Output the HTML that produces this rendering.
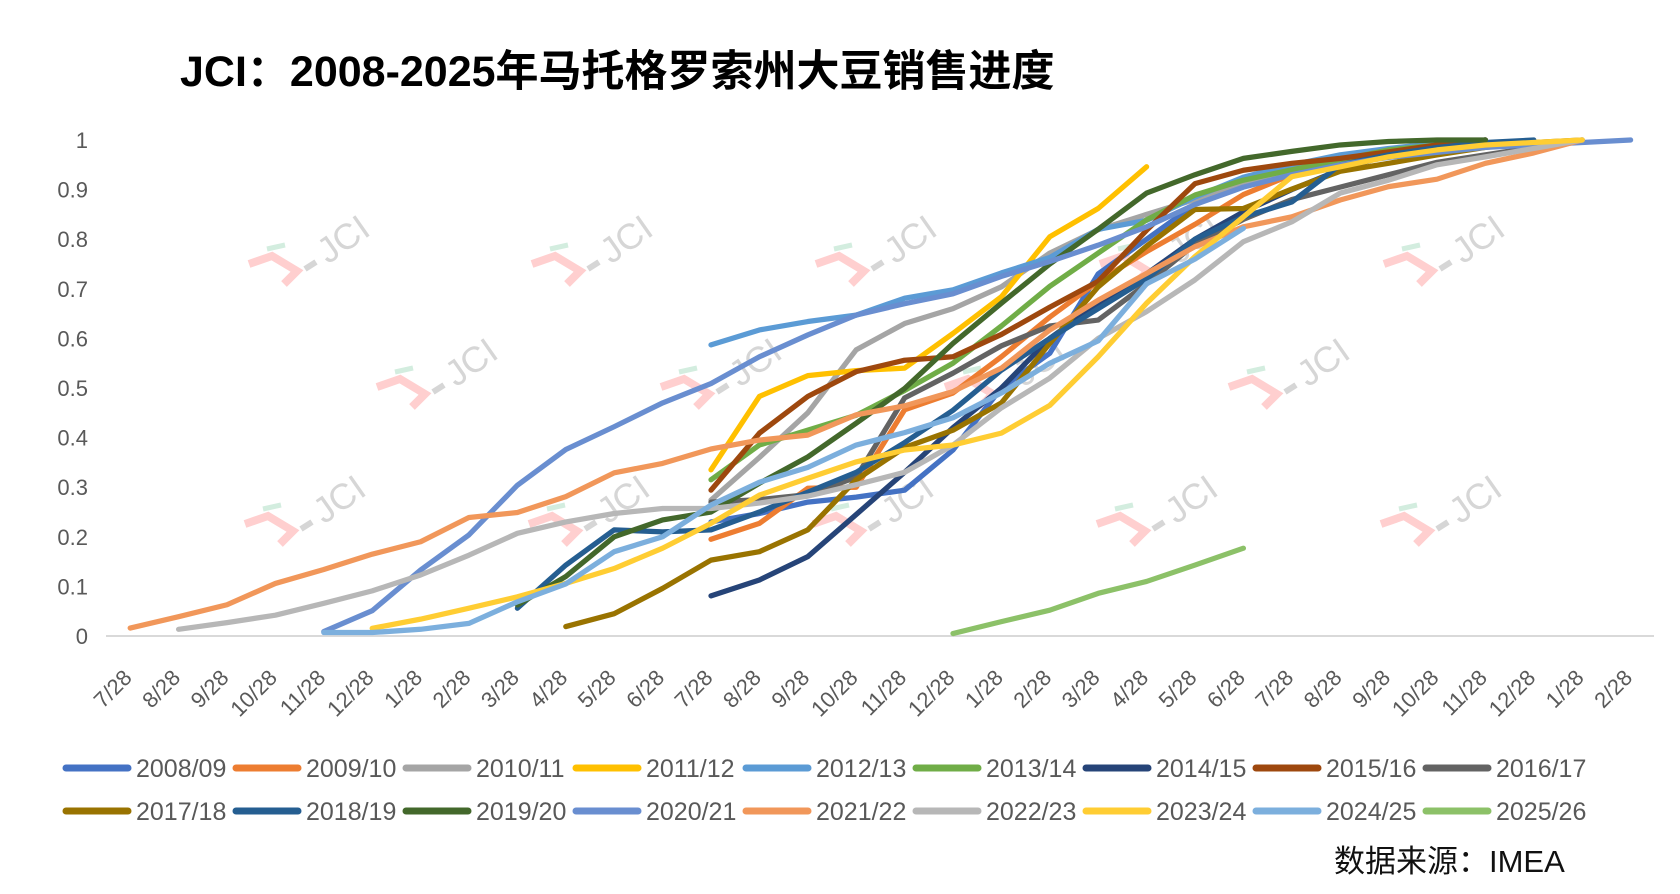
<!DOCTYPE html>
<html><head><meta charset="utf-8"><style>
html,body{margin:0;padding:0;background:#fff;}
svg{display:block;font-family:"Liberation Sans","Noto Sans CJK SC",sans-serif;}
.pl{fill:none;stroke-width:5.25;stroke-linecap:round;stroke-linejoin:round;vector-effect:non-scaling-stroke;}
.xl{font-size:22px;fill:#595959;text-anchor:end;}
.yl{font-size:22px;fill:#595959;text-anchor:end;}
.lg{font-size:25px;fill:#595959;}
.wm text{font-size:36px;fill:#D6D6D6;text-anchor:middle;dominant-baseline:central;}
</style></head><body>
<svg width="1680" height="894" viewBox="0 0 1680 894" xmlns="http://www.w3.org/2000/svg">
<rect width="1680" height="894" fill="#fff"/>
<text x="180" y="86" font-size="43" font-weight="bold" fill="#000">JCI：2008-2025年马托格罗索州大豆销售进度</text>

<!-- watermarks -->
<g class="wm">
<g transform="translate(309,249)"><polyline points="-60,15 -37,7 -12,22 -25,35" fill="none" stroke="#FFCFCF" stroke-width="8"/><line x1="-42" y1="0" x2="-24" y2="-4" stroke="#D3EDDF" stroke-width="5"/><line x1="-4" y1="20" x2="7" y2="13" stroke="#D6D6D6" stroke-width="6"/><text transform="translate(34,-10) rotate(-35)">JCI</text></g>
<g transform="translate(592,249)"><polyline points="-60,15 -37,7 -12,22 -25,35" fill="none" stroke="#FFCFCF" stroke-width="8"/><line x1="-42" y1="0" x2="-24" y2="-4" stroke="#D3EDDF" stroke-width="5"/><line x1="-4" y1="20" x2="7" y2="13" stroke="#D6D6D6" stroke-width="6"/><text transform="translate(34,-10) rotate(-35)">JCI</text></g>
<g transform="translate(876,249)"><polyline points="-60,15 -37,7 -12,22 -25,35" fill="none" stroke="#FFCFCF" stroke-width="8"/><line x1="-42" y1="0" x2="-24" y2="-4" stroke="#D3EDDF" stroke-width="5"/><line x1="-4" y1="20" x2="7" y2="13" stroke="#D6D6D6" stroke-width="6"/><text transform="translate(34,-10) rotate(-35)">JCI</text></g>
<g transform="translate(1160,249)"><polyline points="-60,15 -37,7 -12,22 -25,35" fill="none" stroke="#FFCFCF" stroke-width="8"/><line x1="-42" y1="0" x2="-24" y2="-4" stroke="#D3EDDF" stroke-width="5"/><line x1="-4" y1="20" x2="7" y2="13" stroke="#D6D6D6" stroke-width="6"/><text transform="translate(34,-10) rotate(-35)">JCI</text></g>
<g transform="translate(1444,249)"><polyline points="-60,15 -37,7 -12,22 -25,35" fill="none" stroke="#FFCFCF" stroke-width="8"/><line x1="-42" y1="0" x2="-24" y2="-4" stroke="#D3EDDF" stroke-width="5"/><line x1="-4" y1="20" x2="7" y2="13" stroke="#D6D6D6" stroke-width="6"/><text transform="translate(34,-10) rotate(-35)">JCI</text></g>
<g transform="translate(437,372)"><polyline points="-60,15 -37,7 -12,22 -25,35" fill="none" stroke="#FFCFCF" stroke-width="8"/><line x1="-42" y1="0" x2="-24" y2="-4" stroke="#D3EDDF" stroke-width="5"/><line x1="-4" y1="20" x2="7" y2="13" stroke="#D6D6D6" stroke-width="6"/><text transform="translate(34,-10) rotate(-35)">JCI</text></g>
<g transform="translate(721,372)"><polyline points="-60,15 -37,7 -12,22 -25,35" fill="none" stroke="#FFCFCF" stroke-width="8"/><line x1="-42" y1="0" x2="-24" y2="-4" stroke="#D3EDDF" stroke-width="5"/><line x1="-4" y1="20" x2="7" y2="13" stroke="#D6D6D6" stroke-width="6"/><text transform="translate(34,-10) rotate(-35)">JCI</text></g>
<g transform="translate(1005,372)"><polyline points="-60,15 -37,7 -12,22 -25,35" fill="none" stroke="#FFCFCF" stroke-width="8"/><line x1="-42" y1="0" x2="-24" y2="-4" stroke="#D3EDDF" stroke-width="5"/><line x1="-4" y1="20" x2="7" y2="13" stroke="#D6D6D6" stroke-width="6"/><text transform="translate(34,-10) rotate(-35)">JCI</text></g>
<g transform="translate(1289,372)"><polyline points="-60,15 -37,7 -12,22 -25,35" fill="none" stroke="#FFCFCF" stroke-width="8"/><line x1="-42" y1="0" x2="-24" y2="-4" stroke="#D3EDDF" stroke-width="5"/><line x1="-4" y1="20" x2="7" y2="13" stroke="#D6D6D6" stroke-width="6"/><text transform="translate(34,-10) rotate(-35)">JCI</text></g>
<g transform="translate(305,509)"><polyline points="-60,15 -37,7 -12,22 -25,35" fill="none" stroke="#FFCFCF" stroke-width="8"/><line x1="-42" y1="0" x2="-24" y2="-4" stroke="#D3EDDF" stroke-width="5"/><line x1="-4" y1="20" x2="7" y2="13" stroke="#D6D6D6" stroke-width="6"/><text transform="translate(34,-10) rotate(-35)">JCI</text></g>
<g transform="translate(589,509)"><polyline points="-60,15 -37,7 -12,22 -25,35" fill="none" stroke="#FFCFCF" stroke-width="8"/><line x1="-42" y1="0" x2="-24" y2="-4" stroke="#D3EDDF" stroke-width="5"/><line x1="-4" y1="20" x2="7" y2="13" stroke="#D6D6D6" stroke-width="6"/><text transform="translate(34,-10) rotate(-35)">JCI</text></g>
<g transform="translate(873,509)"><polyline points="-60,15 -37,7 -12,22 -25,35" fill="none" stroke="#FFCFCF" stroke-width="8"/><line x1="-42" y1="0" x2="-24" y2="-4" stroke="#D3EDDF" stroke-width="5"/><line x1="-4" y1="20" x2="7" y2="13" stroke="#D6D6D6" stroke-width="6"/><text transform="translate(34,-10) rotate(-35)">JCI</text></g>
<g transform="translate(1157,509)"><polyline points="-60,15 -37,7 -12,22 -25,35" fill="none" stroke="#FFCFCF" stroke-width="8"/><line x1="-42" y1="0" x2="-24" y2="-4" stroke="#D3EDDF" stroke-width="5"/><line x1="-4" y1="20" x2="7" y2="13" stroke="#D6D6D6" stroke-width="6"/><text transform="translate(34,-10) rotate(-35)">JCI</text></g>
<g transform="translate(1441,509)"><polyline points="-60,15 -37,7 -12,22 -25,35" fill="none" stroke="#FFCFCF" stroke-width="8"/><line x1="-42" y1="0" x2="-24" y2="-4" stroke="#D3EDDF" stroke-width="5"/><line x1="-4" y1="20" x2="7" y2="13" stroke="#D6D6D6" stroke-width="6"/><text transform="translate(34,-10) rotate(-35)">JCI</text></g>
</g>

<!-- y labels -->
<g class="yl">
<text x="88" y="148">1</text>
<text x="88" y="197.6">0.9</text>
<text x="88" y="247.2">0.8</text>
<text x="88" y="296.8">0.7</text>
<text x="88" y="346.4">0.6</text>
<text x="88" y="396">0.5</text>
<text x="88" y="445.6">0.4</text>
<text x="88" y="495.2">0.3</text>
<text x="88" y="544.8">0.2</text>
<text x="88" y="594.4">0.1</text>
<text x="88" y="644">0</text>
</g>

<!-- x axis -->
<line x1="106" y1="636" x2="1654" y2="636" stroke="#D9D9D9" stroke-width="2"/>

<g class="xl">
<text transform="translate(133.2,679) rotate(-45)">7/28</text>
<text transform="translate(181.6,679) rotate(-45)">8/28</text>
<text transform="translate(230,679) rotate(-45)">9/28</text>
<text transform="translate(278.4,679) rotate(-45)">10/28</text>
<text transform="translate(326.8,679) rotate(-45)">11/28</text>
<text transform="translate(375.2,679) rotate(-45)">12/28</text>
<text transform="translate(423.6,679) rotate(-45)">1/28</text>
<text transform="translate(472,679) rotate(-45)">2/28</text>
<text transform="translate(520.4,679) rotate(-45)">3/28</text>
<text transform="translate(568.8,679) rotate(-45)">4/28</text>
<text transform="translate(617.2,679) rotate(-45)">5/28</text>
<text transform="translate(665.6,679) rotate(-45)">6/28</text>
<text transform="translate(714,679) rotate(-45)">7/28</text>
<text transform="translate(762.4,679) rotate(-45)">8/28</text>
<text transform="translate(810.8,679) rotate(-45)">9/28</text>
<text transform="translate(859.2,679) rotate(-45)">10/28</text>
<text transform="translate(907.6,679) rotate(-45)">11/28</text>
<text transform="translate(956,679) rotate(-45)">12/28</text>
<text transform="translate(1004.4,679) rotate(-45)">1/28</text>
<text transform="translate(1052.8,679) rotate(-45)">2/28</text>
<text transform="translate(1101.2,679) rotate(-45)">3/28</text>
<text transform="translate(1149.6,679) rotate(-45)">4/28</text>
<text transform="translate(1198,679) rotate(-45)">5/28</text>
<text transform="translate(1246.4,679) rotate(-45)">6/28</text>
<text transform="translate(1294.8,679) rotate(-45)">7/28</text>
<text transform="translate(1343.2,679) rotate(-45)">8/28</text>
<text transform="translate(1391.6,679) rotate(-45)">9/28</text>
<text transform="translate(1440,679) rotate(-45)">10/28</text>
<text transform="translate(1488.4,679) rotate(-45)">11/28</text>
<text transform="translate(1536.8,679) rotate(-45)">12/28</text>
<text transform="translate(1585.2,679) rotate(-45)">1/28</text>
<text transform="translate(1633.6,679) rotate(-45)">2/28</text>
</g>

<!-- series -->
<g transform="translate(130.2,636) scale(48.4,-496)">
<polyline class="pl" stroke="#4472C4" points="12,.23 13,.247 14,.27 15,.28 16,.294 17,.375 18,.5 19,.57 20,.73 21,.8 22,.87 23,.91 24,.94 25,.96 26,.98 27,.99 28,1"/>
<polyline class="pl" stroke="#ED7D31" points="12,.195 13,.227 14,.298 15,.3 16,.456 17,.49 18,.563 19,.643 20,.715 21,.775 22,.83 23,.89 24,.93 25,.96 26,.98 27,.99 28,1"/>
<polyline class="pl" stroke="#A5A5A5" points="12,.274 13,.36 14,.45 15,.577 16,.63 17,.66 18,.704 19,.772 20,.819 21,.85 22,.88 23,.91 24,.94 25,.96 26,.98 27,.99 28,1"/>
<polyline class="pl" stroke="#FFC000" points="12,.335 13,.483 14,.525 15,.535 16,.54 17,.61 18,.684 19,.805 20,.862 21,.946"/>
<polyline class="pl" stroke="#5B9BD5" points="12,.587 13,.617 14,.634 15,.647 16,.681 17,.698 18,.732 19,.763 20,.82 21,.838 22,.885 23,.925 24,.95 25,.97 26,.983 27,.993 28,1"/>
<polyline class="pl" stroke="#70AD47" points="12,.315 13,.385 14,.415 15,.445 16,.495 17,.55 18,.625 19,.705 20,.772 21,.839 22,.889 23,.919 24,.94 25,.96 26,.98 27,.99 28,1"/>
<polyline class="pl" stroke="#264478" points="12,.081 13,.113 14,.16 15,.245 16,.33 17,.42 18,.5 19,.6 20,.67 21,.73 22,.8 23,.855 24,.9 25,.94 26,.97 27,.99 28,1"/>
<polyline class="pl" stroke="#9E480E" points="12,.294 13,.409 14,.483 15,.533 16,.556 17,.563 18,.608 19,.663 20,.715 21,.818 22,.912 23,.939 24,.953 25,.963 26,.976 27,.99 28,1"/>
<polyline class="pl" stroke="#636363" points="12,.27 13,.275 14,.285 15,.32 16,.48 17,.53 18,.585 19,.625 20,.637 21,.71 22,.79 23,.84 24,.88 25,.905 26,.93 27,.955 28,.97 29,.985 30,1"/>
<polyline class="pl" stroke="#997300" points="9,.019 10,.045 11,.096 12,.153 13,.17 14,.214 15,.315 16,.38 17,.415 18,.47 19,.59 20,.704 21,.786 22,.86 23,.862 24,.901 25,.937 26,.953 27,.97 28,.985 29,.995 30,1"/>
<polyline class="pl" stroke="#255E91" points="8,.056 9,.143 10,.214 11,.21 12,.214 13,.25 14,.29 15,.33 16,.39 17,.455 18,.536 19,.6 20,.66 21,.72 22,.8 23,.845 24,.875 25,.95 26,.97 27,.985 28,.995 29,1"/>
<polyline class="pl" stroke="#43682B" points="8,.0625 9,.12 10,.2 11,.234 12,.25 13,.308 14,.361 15,.429 16,.499 17,.59 18,.671 19,.75 20,.82 21,.893 22,.93 23,.963 24,.977 25,.99 26,.997 27,1 28,1"/>
<polyline class="pl" stroke="#698ED0" points="4,.009 5,.051 6,.133 7,.204 8,.304 9,.376 10,.422 11,.47 12,.509 13,.563 14,.607 15,.647 16,.67 17,.69 18,.725 19,.755 20,.788 21,.825 22,.87 23,.905 24,.93 25,.95 26,.965 27,.975 28,.985 29,.99 30,.995 31,1"/>
<polyline class="pl" stroke="#F1975A" points="0,.016 1,.039 2,.063 3,.106 4,.134 5,.165 6,.19 7,.239 8,.249 9,.281 10,.329 11,.348 12,.377 13,.395 14,.405 15,.446 16,.464 17,.493 18,.54 19,.617 20,.677 21,.731 22,.785 23,.825 24,.845 25,.879 26,.906 27,.921 28,.953 29,.974 30,1"/>
<polyline class="pl" stroke="#B7B7B7" points="1,.0135 2,.027 3,.042 4,.066 5,.091 6,.123 7,.163 8,.207 9,.23 10,.247 11,.257 12,.257 13,.268 14,.282 15,.305 16,.33 17,.385 18,.46 19,.52 20,.6 21,.654 22,.718 23,.795 24,.835 25,.893 26,.919 27,.95 28,.966 29,.983 30,1"/>
<polyline class="pl" stroke="#FFCD33" points="5,.0155 6,.034 7,.056 8,.079 9,.106 10,.136 11,.177 12,.227 13,.284 14,.318 15,.351 16,.375 17,.385 18,.409 19,.465 20,.563 21,.671 22,.765 23,.845 24,.926 25,.946 26,.966 27,.98 28,.99 29,.995 30,1"/>
<polyline class="pl" stroke="#7CAFDD" points="4,.007 5,.007 6,.0135 7,.0255 8,.069 9,.105 10,.17 11,.2 12,.264 13,.31 14,.34 15,.385 16,.41 17,.44 18,.49 19,.55 20,.595 21,.71 22,.76 23,.822"/>
<polyline class="pl" stroke="#8CC168" points="17,.005 18,.029 19,.052 20,.086 21,.11 22,.143 23,.177"/>
</g>

<!-- legend -->
<g stroke-width="7" stroke-linecap="round">
<line x1="66" y1="768" x2="128" y2="768" stroke="#4472C4"/>
<line x1="236" y1="768" x2="298" y2="768" stroke="#ED7D31"/>
<line x1="406" y1="768" x2="468" y2="768" stroke="#A5A5A5"/>
<line x1="576" y1="768" x2="638" y2="768" stroke="#FFC000"/>
<line x1="746" y1="768" x2="808" y2="768" stroke="#5B9BD5"/>
<line x1="916" y1="768" x2="978" y2="768" stroke="#70AD47"/>
<line x1="1086" y1="768" x2="1148" y2="768" stroke="#264478"/>
<line x1="1256" y1="768" x2="1318" y2="768" stroke="#9E480E"/>
<line x1="1426" y1="768" x2="1488" y2="768" stroke="#636363"/>
<line x1="66" y1="811" x2="128" y2="811" stroke="#997300"/>
<line x1="236" y1="811" x2="298" y2="811" stroke="#255E91"/>
<line x1="406" y1="811" x2="468" y2="811" stroke="#43682B"/>
<line x1="576" y1="811" x2="638" y2="811" stroke="#698ED0"/>
<line x1="746" y1="811" x2="808" y2="811" stroke="#F1975A"/>
<line x1="916" y1="811" x2="978" y2="811" stroke="#B7B7B7"/>
<line x1="1086" y1="811" x2="1148" y2="811" stroke="#FFCD33"/>
<line x1="1256" y1="811" x2="1318" y2="811" stroke="#7CAFDD"/>
<line x1="1426" y1="811" x2="1488" y2="811" stroke="#8CC168"/>
</g>
<g class="lg">
<text x="136" y="777">2008/09</text>
<text x="306" y="777">2009/10</text>
<text x="476" y="777">2010/11</text>
<text x="646" y="777">2011/12</text>
<text x="816" y="777">2012/13</text>
<text x="986" y="777">2013/14</text>
<text x="1156" y="777">2014/15</text>
<text x="1326" y="777">2015/16</text>
<text x="1496" y="777">2016/17</text>
<text x="136" y="820">2017/18</text>
<text x="306" y="820">2018/19</text>
<text x="476" y="820">2019/20</text>
<text x="646" y="820">2020/21</text>
<text x="816" y="820">2021/22</text>
<text x="986" y="820">2022/23</text>
<text x="1156" y="820">2023/24</text>
<text x="1326" y="820">2024/25</text>
<text x="1496" y="820">2025/26</text>
</g>

<text x="1334" y="872" font-size="31" fill="#111">数据来源：IMEA</text>
</svg>
</body></html>
